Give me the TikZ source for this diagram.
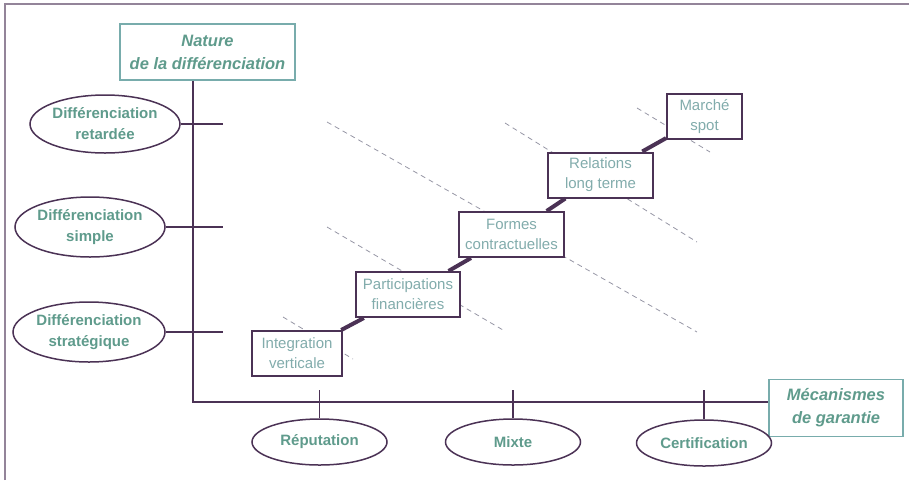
\documentclass[tikz,border=0pt]{standalone}
\usepackage{fontspec}
\setmainfont{Liberation Sans}
\usetikzlibrary{shapes.geometric,calc,backgrounds}

\definecolor{trait}{RGB}{75,50,85}
\definecolor{texte}{RGB}{95,155,140}
\definecolor{textec}{RGB}{130,172,172}
\definecolor{cadre}{RGB}{120,172,172}
\definecolor{tirets}{RGB}{150,150,165}

\tikzstyle{axe} = [draw, trait, line width=1.5pt]
\tikzstyle{escalier} = [draw, trait, line width=4pt]
\tikzstyle{guide} = [draw, tirets, dash pattern=on 5pt off 4pt, line width=0.8pt]
\tikzstyle{titre} = [draw=cadre, rectangle, line width=1.5pt, fill=white, text=texte, align=center, font=\fontsize{16.5}{23}\selectfont\bfseries\itshape, node distance=0pt]
\tikzstyle{ovale} = [draw=trait, ellipse, line width=1.5pt, inner sep=0pt, fill=white, text=texte, align=center, font=\fontsize{15}{21}\selectfont\bfseries, node distance=0pt]
\tikzstyle{bloc} = [draw=trait, rectangle, line width=2pt, fill=white, text=textec, align=center, inner xsep=5pt, minimum height=45pt, font=\fontsize{15}{20}\selectfont, node distance=0pt]

\begin{document}
\begin{tikzpicture}[x=1pt, y=1pt, node distance=0pt]
\useasboundingbox (0,0) rectangle (909,-480);
% cadre
\draw [trait!60, line width=1.5pt] (5,-480) -- (5,-4) -- (909,-4);
% axe vertical
\node [titre, minimum width=175pt, minimum height=56pt] (nature) at (207.5,-52) {Nature\\de la différenciation};
\node [ovale, minimum width=150pt, minimum height=58pt, below of=nature, xshift=-102.5pt, yshift=-72pt] (retard) {Différenciation\\retardée};
\node [ovale, minimum width=150pt, minimum height=60pt, below of=retard, xshift=-15pt, yshift=-103pt] (simple) {Différenciation\\simple};
\node [ovale, minimum width=152pt, minimum height=60pt, below of=simple, xshift=-1pt, yshift=-105pt] (strat) {Différenciation\\stratégique};
% axe horizontal
\coordinate [below of=nature, xshift=-14.5pt, yshift=-350pt] (coin);
\coordinate [right of=coin, xshift=30pt] (finx);
\coordinate [above of=coin, yshift=12pt] (finy);
\node [titre, minimum width=134pt, minimum height=57pt, right of=coin, xshift=643pt, yshift=-6pt] (mecan) {Mécanismes\\de garantie};
\node [ovale, minimum width=135pt, minimum height=46pt, right of=coin, xshift=126.5pt, yshift=-40pt] (reput) {Réputation};
\node [ovale, minimum width=135pt, minimum height=46pt, right of=reput, xshift=193.5pt] (mixte) {Mixte};
\node [ovale, minimum width=135pt, minimum height=46pt, right of=mixte, xshift=191pt, yshift=-1pt] (certif) {Certification};
% escalier
\node [bloc, minimum width=90pt, right of=coin, xshift=104pt, yshift=48.5pt] (integ) {Integration\\verticale};
\node [bloc, minimum width=104pt, right of=integ, xshift=111pt, yshift=59pt] (partic) {Participations\\financières};
\node [bloc, minimum width=105pt, right of=partic, xshift=103.5pt, yshift=60pt] (formes) {Formes\\contractuelles};
\node [bloc, minimum width=105pt, right of=formes, xshift=89pt, yshift=59.5pt] (relat) {Relations\\long terme};
\node [bloc, minimum width=75pt, right of=relat, xshift=104pt, yshift=58.5pt] (marche) {Marché\\spot};
% tirets
\begin{pgfonlayer}{background}
\path [guide] ($(integ)+(-14,36.5)$) -- ($(integ)+(56,-5.5)$);
\path [guide] ($(partic)+(-81,67.5)$) -- ($(partic)+(95,-35.5)$);
\path [guide] ($(formes)+(-184.5,112.5)$) -- ($(formes)+(185.5,-97.5)$);
\path [guide] ($(relat)+(-95.5,52)$) -- ($(relat)+(96.5,-67)$);
\path [guide] ($(marche)+(-67.5,8.5)$) -- ($(marche)+(5.5,-35.5)$);
\end{pgfonlayer}
%lignes
% axes
\path [axe] (coin |- nature.south) -- (coin) -- (coin -| mecan.west);
\path [axe] (retard.east) -- (retard.east -| finx);
\path [axe] (simple.east) -- (simple.east -| finx);
\path [axe] (strat.east) -- (strat.east -| finx);
\path [axe] (reput.north) -- (reput.north |- finy);
\path [axe] (mixte.north) -- (mixte.north |- finy);
\path [axe] (certif.north) -- (certif.north |- finy);
% marches
\path [escalier] (integ) -- (partic);
\path [escalier] (partic) -- (formes);
\path [escalier] (formes) -- (relat);
\path [escalier] (relat) -- (marche);
\end{tikzpicture}
\end{document}
